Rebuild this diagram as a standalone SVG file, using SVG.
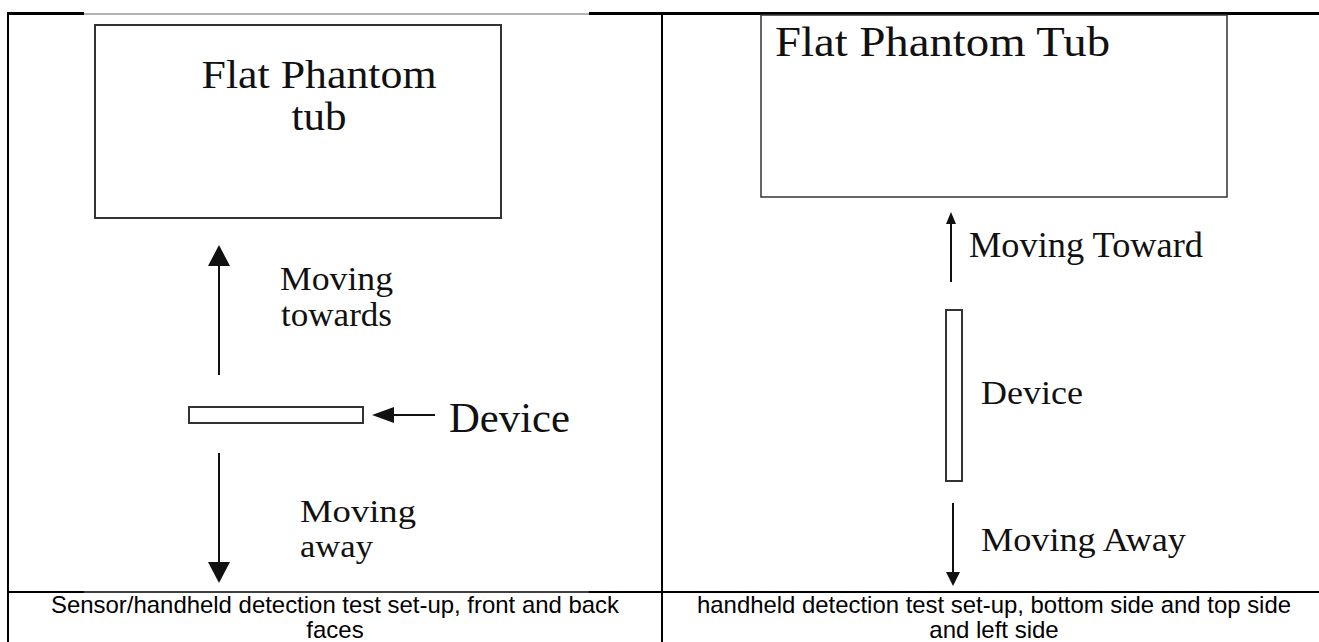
<svg xmlns="http://www.w3.org/2000/svg" width="1319" height="642" viewBox="0 0 1319 642">
<style>
.serif{font-family:"Liberation Serif","Times New Roman",serif;fill:#111}
.cap{font-family:"Liberation Sans",Arial,sans-serif;font-size:24px;fill:#000;text-anchor:middle}
.grid{stroke:#000;fill:none}
.box{fill:#fff;stroke:#333}
.conn{stroke:#111;stroke-width:2;fill:none}
.head{fill:#111;stroke:none}
</style>
<rect width="1319" height="642" fill="#fff"/>
<g id="table">
  <line class="grid" x1="7" y1="13.5" x2="84" y2="13.5" stroke-width="3"/>
  <line x1="84" y1="14" x2="589" y2="14" stroke="#999" stroke-width="1.5"/>
  <line class="grid" x1="589" y1="13.5" x2="1319" y2="13.5" stroke-width="3"/>
  <line class="grid" x1="8" y1="12" x2="8" y2="642" stroke-width="2"/>
  <line class="grid" x1="662" y1="12" x2="662" y2="642" stroke-width="2"/>
  <line class="grid" x1="7" y1="592" x2="84" y2="592" stroke-width="2"/>
  <line class="grid" x1="84" y1="592" x2="589" y2="592" stroke-width="1.3"/>
  <line class="grid" x1="589" y1="592" x2="1319" y2="592" stroke-width="2"/>
</g>
<g id="left-tub">
  <rect class="box" x="95" y="25" width="406" height="193" stroke-width="2"/>
  <text class="serif" x="319" y="88" font-size="41" text-anchor="middle" textLength="235" lengthAdjust="spacingAndGlyphs">Flat Phantom</text>
  <text class="serif" x="319" y="130" font-size="41" text-anchor="middle" textLength="55" lengthAdjust="spacingAndGlyphs">tub</text>
</g>
<g id="left-device">
  <rect class="box" x="189" y="407" width="174" height="16" stroke-width="2"/>
  <text class="serif" x="449" y="432" font-size="42" textLength="121" lengthAdjust="spacingAndGlyphs">Device</text>
</g>
<g id="left-labels">
  <text class="serif" x="280" y="290" font-size="33" textLength="113" lengthAdjust="spacingAndGlyphs">Moving</text>
  <text class="serif" x="281" y="326" font-size="33" textLength="111" lengthAdjust="spacingAndGlyphs">towards</text>
  <text class="serif" x="300" y="522" font-size="32" textLength="116" lengthAdjust="spacingAndGlyphs">Moving</text>
  <text class="serif" x="300" y="557" font-size="32" textLength="73" lengthAdjust="spacingAndGlyphs">away</text>
</g>
<g id="right-tub">
  <rect class="box" x="761" y="15" width="466" height="182" stroke-width="1.5"/>
  <text class="serif" x="775" y="56" font-size="43" textLength="335" lengthAdjust="spacingAndGlyphs">Flat Phantom Tub</text>
</g>
<g id="right-device">
  <rect class="box" x="946" y="310" width="16" height="171" stroke-width="2" stroke="#111"/>
  <text class="serif" x="981" y="404" font-size="34" textLength="102" lengthAdjust="spacingAndGlyphs">Device</text>
</g>
<g id="right-labels">
  <text class="serif" x="969" y="257" font-size="35" textLength="234" lengthAdjust="spacingAndGlyphs">Moving Toward</text>
  <text class="serif" x="981" y="551" font-size="34" textLength="205" lengthAdjust="spacingAndGlyphs">Moving Away</text>
</g>
<g id="connectors">
  <line class="conn" x1="219" y1="375" x2="219" y2="262"/>
  <polygon class="head" points="219,245 208,266 230,266"/>
  <line class="conn" x1="435" y1="415" x2="390" y2="415"/>
  <polygon class="head" points="372,415 394,407 394,423"/>
  <line class="conn" x1="219" y1="453" x2="219" y2="566"/>
  <polygon class="head" points="219,583 208,562 230,562"/>
  <line class="conn" x1="951" y1="282" x2="951" y2="220"/>
  <polygon class="head" points="951,212 946,224 956,224"/>
  <line class="conn" x1="953" y1="503" x2="953" y2="575"/>
  <polygon class="head" points="953,586 946,572 960,572"/>
</g>
<g id="captions">
  <text class="cap" x="335" y="613" textLength="568" lengthAdjust="spacingAndGlyphs">Sensor/handheld detection test set-up, front and back</text>
  <text class="cap" x="335" y="638">faces</text>
  <text class="cap" x="994" y="613" textLength="594" lengthAdjust="spacingAndGlyphs">handheld detection test set-up, bottom side and top side</text>
  <text class="cap" x="994" y="638">and left side</text>
</g>
</svg>
